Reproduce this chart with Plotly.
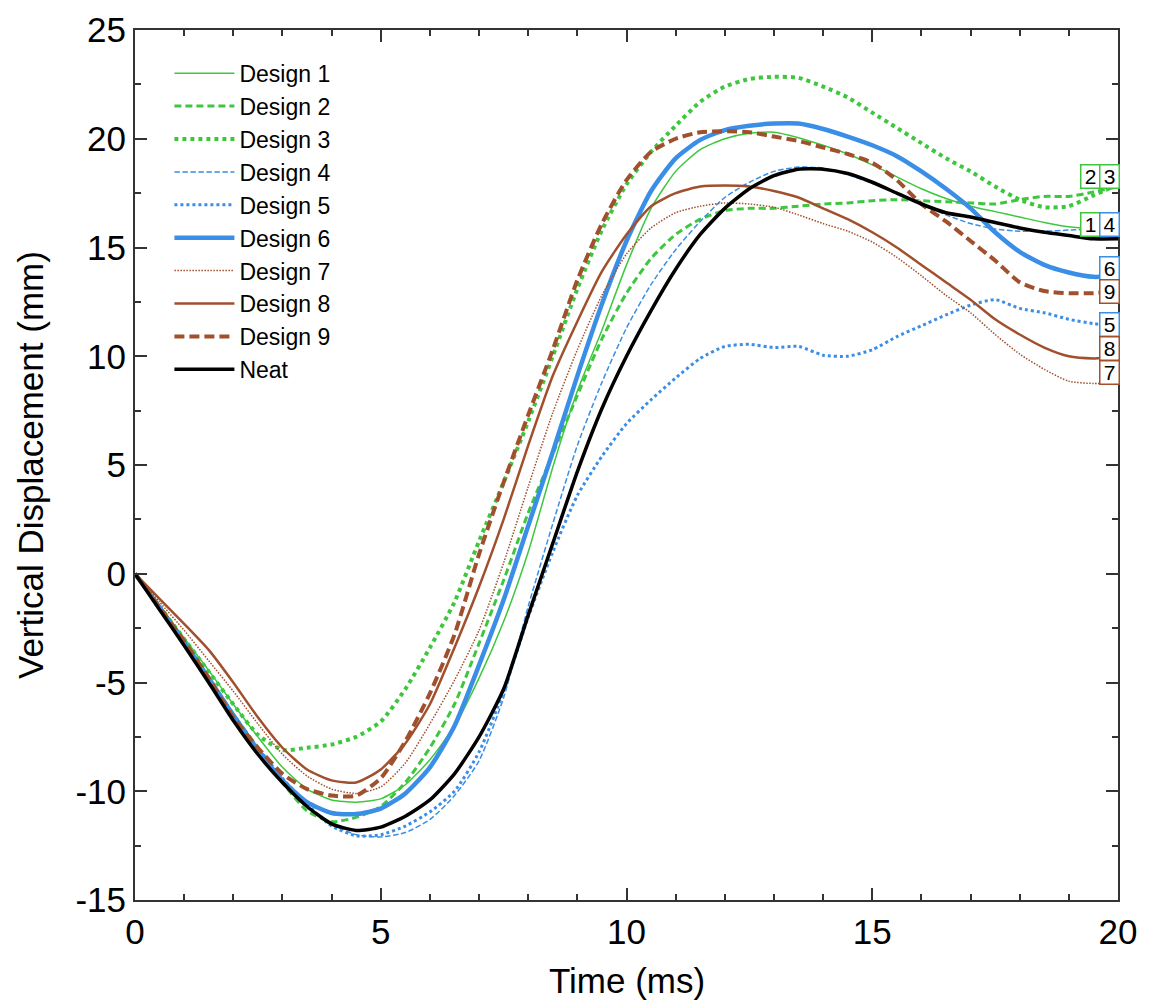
import plotly.graph_objects as go

# ---------------- data ----------------
time_ms = [0, 0.5, 1, 1.5, 2, 2.5, 3, 3.5, 4, 4.5, 5, 5.5, 6, 6.5, 7, 7.5, 8, 8.5, 9, 9.5,
           10, 10.5, 11, 11.5, 12, 12.5, 13, 13.5, 14, 14.5, 15, 15.5, 16, 16.5, 17, 17.5,
           18, 18.5, 19, 19.5, 20]

design1 = [0, -1.45, -2.95, -4.45, -6.0, -7.5, -8.9, -9.9, -10.4, -10.5, -10.35, -9.7, -8.55, -7.0,
           -4.8, -2.2, 1.0, 4.9, 8.4, 11.2, 14.2, 16.8, 18.5, 19.5, 20.0, 20.25, 20.3, 20.05, 19.7,
           19.3, 18.8, 18.25, 17.7, 17.25, 16.9, 16.65, 16.4, 16.15, 15.95, 15.85, 15.8]
design2 = [0, -1.55, -3.1, -4.75, -6.45, -8.0, -9.6, -10.9, -11.4, -11.2, -10.7, -9.6, -8.0, -6.0,
           -3.2, -0.3, 2.8, 5.5, 8.2, 10.8, 12.9, 14.5, 15.6, 16.3, 16.7, 16.8, 16.8, 16.9, 17.0,
           17.05, 17.15, 17.2, 17.15, 17.1, 17.05, 17.0, 17.2, 17.35, 17.35, 17.55, 17.8]
design3 = [0, -1.5, -3.0, -4.5, -6.0, -7.4, -8.1, -8.0, -7.85, -7.5, -6.8, -5.3, -3.4, -1.3,
           1.5, 4.2, 7.0, 10.0, 13.1, 15.8, 17.9, 19.4, 20.6, 21.7, 22.4, 22.75, 22.85, 22.8, 22.4,
           21.9, 21.2, 20.5, 19.8, 19.1, 18.5, 17.8, 17.2, 16.85, 16.9, 17.4, 17.9]
design4 = [0, -1.6, -3.2, -4.9, -6.6, -8.1, -9.5, -10.7, -11.5, -12.0, -12.1, -11.9, -11.3, -10.2,
           -8.6, -5.7, -1.5, 2.3, 5.9, 8.8, 11.3, 13.3, 14.9, 16.2, 17.3, 18.0, 18.5, 18.7, 18.65,
           18.35, 17.95, 17.5, 17.0, 16.5, 16.1, 15.85, 15.75, 15.75, 15.8, 15.85, 15.9]
design5 = [0, -1.55, -3.15, -4.8, -6.5, -8.0, -9.4, -10.6, -11.6, -12.05, -12.0, -11.6, -10.95, -10.0,
           -8.2, -5.4, -2.0, 1.0, 3.6, 5.4, 6.9, 8.0, 9.0, 9.9, 10.45, 10.55, 10.4, 10.45, 10.05,
           10.0, 10.3, 10.9, 11.4, 11.9, 12.35, 12.6, 12.2, 12.0, 11.7, 11.5, 11.4]
design6 = [0, -1.55, -3.15, -4.8, -6.5, -8.1, -9.5, -10.5, -11.0, -11.05, -10.8, -10.1, -8.9, -7.0,
           -4.2, -1.2, 2.2, 5.6, 9.1, 12.4, 15.3, 17.6, 19.1, 19.95, 20.4, 20.6, 20.7, 20.7, 20.45,
           20.1, 19.7, 19.2, 18.5, 17.7, 16.8, 15.7, 14.8, 14.2, 13.85, 13.65, 13.7]
design7 = [0, -1.3, -2.6, -4.0, -5.4, -6.9, -8.3, -9.3, -9.9, -10.1, -9.8, -8.7, -6.9, -4.9,
           -2.6, 0.5, 4.0, 7.4, 10.3, 12.8, 14.7, 15.9, 16.6, 16.9, 17.05, 17.0, 16.85, 16.5, 16.1,
           15.75, 15.25, 14.55, 13.7, 12.8, 12.0, 11.0, 10.1, 9.4, 8.85, 8.75, 8.8]
design8 = [0, -1.15, -2.3, -3.5, -5.0, -6.6, -8.0, -9.0, -9.5, -9.6, -9.0, -7.8, -6.0, -3.4,
           -0.6, 2.5, 5.9, 9.1, 11.6, 13.9, 15.6, 16.9, 17.5, 17.8, 17.85, 17.8, 17.6, 17.3, 16.8,
           16.3, 15.7, 15.0, 14.2, 13.4, 12.6, 11.7, 11.0, 10.4, 10.0, 9.9, 9.95]
design9 = [0, -1.55, -3.1, -4.8, -6.6, -8.0, -9.2, -9.9, -10.2, -10.2, -9.4, -7.7, -5.5, -2.8,
           0.9, 4.2, 7.3, 10.3, 13.5, 16.1, 18.1, 19.4, 20.0, 20.3, 20.35, 20.3, 20.1, 19.9, 19.6,
           19.3, 18.9, 18.1, 17.0, 16.2, 15.3, 14.4, 13.4, 13.0, 12.9, 12.9, 13.0]
neat = [0, -1.65, -3.3, -5.0, -6.75, -8.3, -9.6, -10.7, -11.5, -11.8, -11.65, -11.15, -10.4, -9.2,
        -7.5, -5.3, -1.9, 1.4, 4.7, 7.6, 10.0, 12.1, 14.0, 15.6, 16.8, 17.7, 18.3, 18.6, 18.6,
        18.4, 18.0, 17.5, 17.0, 16.6, 16.4, 16.15, 15.9, 15.7, 15.55, 15.4, 15.4]

series_names = ["Design 1", "Design 2", "Design 3", "Design 4", "Design 5",
                "Design 6", "Design 7", "Design 8", "Design 9", "Neat"]
series_values = [design1, design2, design3, design4, design5,
                 design6, design7, design8, design9, neat]

# end labels: text, time position, value position, colour group
label_texts = ["2", "3", "1", "4", "6", "9", "5", "8", "7"]
label_t = [19.45, 19.82, 19.45, 19.82, 19.82, 19.82, 19.82, 19.82, 19.82]
label_v = [18.25, 18.25, 16.07, 16.07, 14.05, 12.97, 11.45, 10.34, 9.26]
label_group = ["g", "g", "g", "b", "b", "r", "b", "r", "r"]

x_ticks = [0, 5, 10, 15, 20]
y_ticks = [-15, -10, -5, 0, 5, 10, 15, 20, 25]

# ---------------- styles ----------------
GREEN = "#3ec73e"
BLUE = "#3a8ee6"
BROWN = "#a0502d"
BLACK = "#000000"
group_color = {"g": GREEN, "b": BLUE, "r": BROWN}

styles = [
    dict(color=GREEN, width=1.5, dash="solid"),
    dict(color=GREEN, width=3, dash="7px,4px"),
    dict(color=GREEN, width=4, dash="4px,4px"),
    dict(color=BLUE, width=1.5, dash="5.5px,2.5px"),
    dict(color=BLUE, width=3, dash="3px,3px"),
    dict(color=BLUE, width=4.5, dash="solid"),
    dict(color=BROWN, width=1.5, dash="1.5px,1.5px"),
    dict(color=BROWN, width=2.5, dash="solid"),
    dict(color=BROWN, width=4, dash="10px,5px"),
    dict(color=BLACK, width=3.5, dash="solid"),
]

FONT = "Liberation Sans, Arial, sans-serif"

fig = go.Figure()
for name, vals, st in zip(series_names, series_values, styles):
    fig.add_trace(go.Scatter(
        x=time_ms, y=vals, mode="lines", name=name,
        line=dict(color=st["color"], width=st["width"], dash=st["dash"],
                  shape="spline", smoothing=0.6),
    ))

for txt, tx, vy, grp in zip(label_texts, label_t, label_v, label_group):
    fig.add_annotation(
        x=tx, y=vy, xref="x", yref="y", text=txt, showarrow=False,
        font=dict(family=FONT, size=21, color="black"),
        bgcolor="white", bordercolor=group_color[grp], borderwidth=1.5,
        borderpad=1, width=16, height=20, xanchor="center", yanchor="middle",
    )

# axis titles placed as text annotations
fig.add_annotation(
    x=-0.1068, y=0.5, xref="paper", yref="paper", text="Vertical Displacement (mm)",
    textangle=-90, showarrow=False, xanchor="center", yanchor="middle",
    font=dict(family=FONT, size=35, color="black"),
)
fig.add_annotation(
    x=0.5, y=-0.0931, xref="paper", yref="paper", text="Time (ms)",
    showarrow=False, xanchor="center", yanchor="middle",
    font=dict(family=FONT, size=35, color="black"),
)

axis_common = dict(
    showgrid=False, zeroline=False, showline=True, linecolor="#333333", linewidth=2,
    mirror="ticks", ticks="inside", ticklen=12, tickwidth=1.5, tickcolor="#333333",
    tickfont=dict(family=FONT, size=35, color="black"), automargin=False,
)

fig.update_xaxes(
    range=[0, 20], tickvals=x_ticks, ticktext=[str(v) for v in x_ticks],
    minor=dict(dtick=1, ticks="inside", ticklen=6, tickwidth=1.5, tickcolor="#333333"),
    **axis_common,
)
fig.update_yaxes(
    range=[-15, 25], tickvals=y_ticks, ticktext=[str(v) for v in y_ticks],
    minor=dict(dtick=2.5, ticks="inside", ticklen=6, tickwidth=1.5, tickcolor="#333333"),
    **axis_common,
)

fig.update_layout(
    width=1142, height=997,
    margin=dict(l=127, r=32, t=22, b=105),
    paper_bgcolor="white", plot_bgcolor="white",
    showlegend=True,
    legend=dict(
        x=0.035, y=0.975, xanchor="left", yanchor="top",
        bgcolor="rgba(0,0,0,0)", borderwidth=0,
        font=dict(family=FONT, size=23, color="black"),
        itemwidth=60, tracegroupgap=0,
    ),
)

fig.write_html("out.html")
